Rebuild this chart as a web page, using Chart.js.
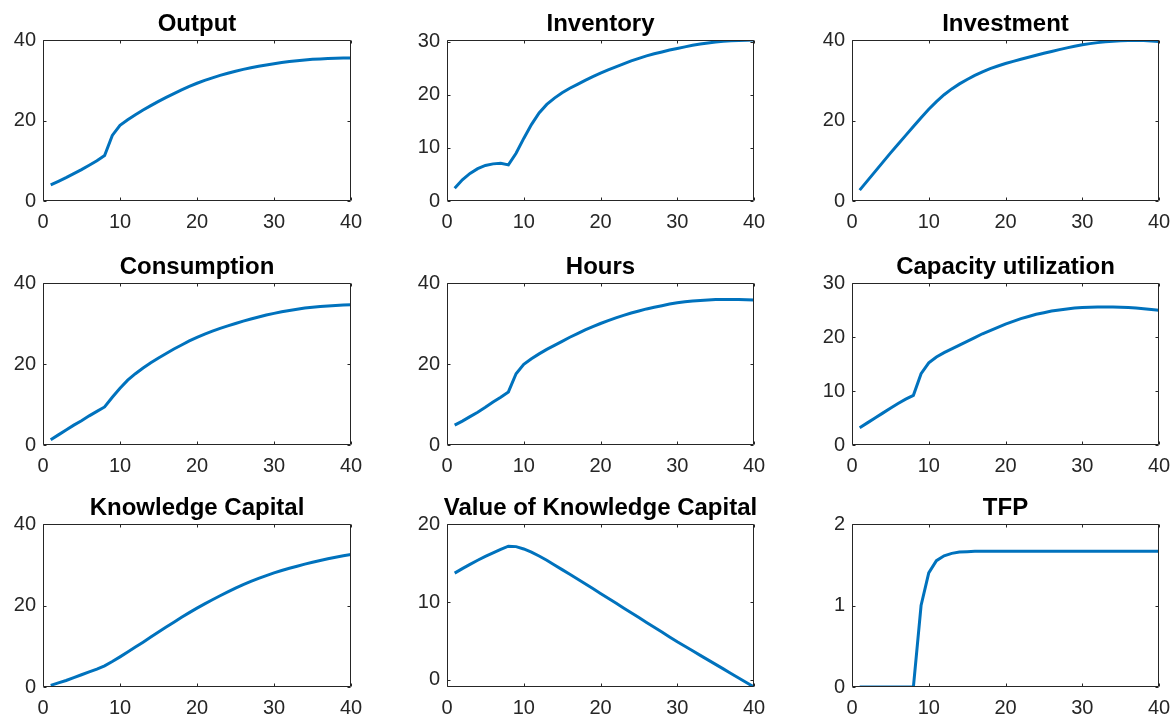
<!DOCTYPE html>
<html>
<head>
<meta charset="utf-8">
<script src="https://cdn.jsdelivr.net/npm/chart.js@4.4.1/dist/chart.umd.min.js"></script>
<style>
  html, body { margin: 0; padding: 0; background: #fff; overflow: hidden; }
  body { width: 1176px; height: 720px; position: relative; }
  canvas { position: absolute; }
</style>
</head>
<body>
<script>
// x axis: periods after the shock
const periods = [1, 2, 3, 4, 5, 6, 7, 8, 9, 10, 11, 12, 13, 14, 15, 16, 17, 18, 19, 20,
  21, 22, 23, 24, 25, 26, 27, 28, 29, 30, 31, 32, 33, 34, 35, 36, 37, 38, 39, 40];
const xTicks = [0, 10, 20, 30, 40];

const titles = ["Output", "Inventory", "Investment", "Consumption", "Hours",
  "Capacity utilization", "Knowledge Capital", "Value of Knowledge Capital", "TFP"];

const output = [4.0, 4.9, 5.8, 6.8, 7.8, 8.9, 10.0, 11.3, 16.3, 18.8,
  20.2, 21.45, 22.6, 23.7, 24.75, 25.75, 26.7, 27.6, 28.45, 29.25,
  29.95, 30.6, 31.2, 31.75, 32.25, 32.7, 33.1, 33.5, 33.8, 34.1,
  34.4, 34.65, 34.85, 35.05, 35.2, 35.3, 35.4, 35.45, 35.5, 35.5];
const inventory = [2.4, 4.0, 5.2, 6.1, 6.7, 7.0, 7.1, 6.8, 9.0, 11.8,
  14.4, 16.6, 18.2, 19.4, 20.4, 21.25, 22.0, 22.75, 23.45, 24.1,
  24.7, 25.3, 25.85, 26.4, 26.9, 27.35, 27.75, 28.1, 28.45, 28.75,
  29.05, 29.35, 29.6, 29.8, 29.97, 30.1, 30.2, 30.27, 30.32, 30.35];
const investment = [2.7, 5.0, 7.3, 9.6, 11.9, 14.1, 16.3, 18.5, 20.7, 22.8,
  24.7, 26.4, 27.85, 29.1, 30.2, 31.2, 32.1, 32.9, 33.55, 34.15,
  34.7, 35.2, 35.7, 36.2, 36.7, 37.15, 37.6, 38.05, 38.45, 38.8,
  39.1, 39.35, 39.55, 39.7, 39.8, 39.85, 39.87, 39.85, 39.78, 39.65];
const consumption = [1.3, 2.5, 3.7, 4.9, 6.0, 7.2, 8.3, 9.4, 11.8, 14.0,
  16.0, 17.6, 19.0, 20.3, 21.5, 22.6, 23.7, 24.7, 25.7, 26.6,
  27.4, 28.1, 28.8, 29.4, 30.0, 30.6, 31.1, 31.6, 32.1, 32.5,
  32.9, 33.2, 33.5, 33.8, 34.0, 34.2, 34.35, 34.45, 34.55, 34.6];
const hours = [4.9, 5.9, 7.0, 8.1, 9.3, 10.6, 11.8, 13.1, 17.6, 19.9,
  21.3, 22.5, 23.6, 24.6, 25.6, 26.6, 27.5, 28.4, 29.2, 30.0,
  30.7, 31.4, 32.0, 32.6, 33.1, 33.6, 34.0, 34.4, 34.8, 35.1,
  35.35, 35.55, 35.7, 35.8, 35.9, 35.95, 35.95, 35.9, 35.85, 35.8];
const capacity = [3.2, 4.1, 5.0, 5.9, 6.8, 7.7, 8.5, 9.2, 13.2, 15.2,
  16.3, 17.1, 17.8, 18.5, 19.2, 19.9, 20.6, 21.2, 21.8, 22.4,
  22.9, 23.4, 23.8, 24.2, 24.5, 24.8, 25.0, 25.2, 25.35, 25.45,
  25.5, 25.55, 25.55, 25.55, 25.5, 25.45, 25.35, 25.25, 25.1, 24.95];
const knowledge = [0.4, 1.0, 1.6, 2.3, 3.0, 3.7, 4.4, 5.2, 6.25, 7.4,
  8.6, 9.8, 11.0, 12.25, 13.5, 14.7, 15.9, 17.1, 18.25, 19.35,
  20.4, 21.4, 22.4, 23.35, 24.25, 25.1, 25.9, 26.65, 27.35, 28.0,
  28.6, 29.15, 29.65, 30.15, 30.6, 31.05, 31.45, 31.85, 32.2, 32.55];
const knowledgeValue = [13.7, 14.28, 14.83, 15.35, 15.84, 16.3, 16.74, 17.15, 17.1, 16.8,
  16.4, 15.9, 15.35, 14.75, 14.15, 13.55, 12.95, 12.33, 11.72, 11.1,
  10.48, 9.86, 9.24, 8.62, 8.0, 7.38, 6.76, 6.14, 5.52, 4.9,
  4.32, 3.74, 3.16, 2.58, 2.0, 1.42, 0.84, 0.26, -0.32, -0.9];
const tfp = [0, 0, 0, 0, 0, 0, 0, 0, 1.0, 1.40,
  1.55, 1.61, 1.64, 1.655, 1.66, 1.665, 1.665, 1.665, 1.665, 1.665,
  1.665, 1.665, 1.665, 1.665, 1.665, 1.665, 1.665, 1.665, 1.665, 1.665,
  1.665, 1.665, 1.665, 1.665, 1.665, 1.665, 1.665, 1.665, 1.665, 1.665];

const series = [output, inventory, investment, consumption, hours,
  capacity, knowledge, knowledgeValue, tfp];

// y limits and tick labels per panel
const yMins = [0, 0, 0, 0, 0, 0, 0, -0.9, 0];
const yMaxs = [40, 30.35, 40, 40, 40, 30, 40, 20, 2];
const yTicks = [[0, 20, 40], [0, 10, 20, 30], [0, 20, 40], [0, 20, 40], [0, 20, 40],
  [0, 10, 20, 30], [0, 20, 40], [0, 10, 20], [0, 1, 2]];

// plot area placement (left, width) per column and (top, height) per row
const colLeft = [43, 447, 852];
const colWidth = [308, 307, 307];
const rowTop = [40, 283, 524];
const rowHeight = [161, 162, 163];
const SIDE = 43, TITLE_H = 32, XAXIS_H = 30;

const axisColor = "#262626";
Chart.defaults.font.family = "'Liberation Sans', Arial, sans-serif";

// MATLAB style box with inward ticks on all four sides
const boxPlugin = {
  id: "matlabBox",
  afterDatasetsDraw(chart) {
    const { ctx, chartArea: a, scales: { x, y } } = chart;
    const l = Math.round(a.left) + 0.5, r = Math.round(a.right) - 0.5;
    const t = Math.round(a.top) + 0.5, b = Math.round(a.bottom) - 0.5;
    ctx.save();
    ctx.strokeStyle = axisColor;
    ctx.lineWidth = 1;
    ctx.beginPath();
    ctx.rect(l, t, r - l, b - t);
    x.ticks.forEach(tk => {
      const px = Math.round(x.getPixelForValue(tk.value)) + 0.5;
      ctx.moveTo(px, b); ctx.lineTo(px, b - 3);
      ctx.moveTo(px, t); ctx.lineTo(px, t + 3);
    });
    y.ticks.forEach(tk => {
      const py = Math.round(y.getPixelForValue(tk.value)) + 0.5;
      ctx.moveTo(l, py); ctx.lineTo(l + 3, py);
      ctx.moveTo(r, py); ctx.lineTo(r - 3, py);
    });
    ctx.stroke();
    ctx.restore();
  }
};

series.forEach((vals, i) => {
  const col = i % 3, row = Math.floor(i / 3);
  const canvas = document.createElement("canvas");
  const w = colWidth[col] + 2 * SIDE;
  const h = rowHeight[row] + TITLE_H + XAXIS_H;
  canvas.width = w;
  canvas.height = h;
  canvas.style.left = (colLeft[col] - SIDE) + "px";
  canvas.style.top = (rowTop[row] - TITLE_H) + "px";
  canvas.style.width = w + "px";
  canvas.style.height = h + "px";
  document.body.appendChild(canvas);

  new Chart(canvas, {
    type: "line",
    data: {
      datasets: [{
        data: periods.map((p, k) => ({ x: p, y: vals[k] })),
        borderColor: "#0072BD",
        borderWidth: 3,
        tension: 0,
        pointRadius: 0,
        fill: false
      }]
    },
    plugins: [boxPlugin],
    options: {
      responsive: false,
      devicePixelRatio: 1,
      animation: false,
      layout: { padding: 0 },
      plugins: {
        legend: { display: false },
        tooltip: { enabled: false },
        title: {
          display: true,
          text: titles[i],
          color: "#000",
          font: { size: 24, weight: "bold", lineHeight: "28px" },
          padding: { top: 2, bottom: 2 }
        }
      },
      scales: {
        x: {
          type: "linear",
          min: 0,
          max: 40,
          afterBuildTicks: s => { s.ticks = xTicks.map(v => ({ value: v })); },
          afterFit: s => { s.height = XAXIS_H; },
          grid: { display: false, drawTicks: false },
          border: { display: false },
          ticks: { color: axisColor, font: { size: 20 }, padding: 9, maxRotation: 0 }
        },
        y: {
          type: "linear",
          position: "left",
          min: yMins[i],
          max: yMaxs[i],
          afterBuildTicks: s => { s.ticks = yTicks[i].map(v => ({ value: v })); },
          afterFit: s => { s.width = SIDE; },
          grid: { display: false, drawTicks: false },
          border: { display: false },
          ticks: { color: axisColor, font: { size: 20 }, padding: 7 }
        },
        // empty right axis so the plot area (and title) sit centred in the canvas
        yRight: {
          type: "linear",
          position: "right",
          min: yMins[i],
          max: yMaxs[i],
          afterFit: s => { s.width = SIDE; },
          grid: { display: false, drawTicks: false },
          border: { display: false },
          ticks: { display: false }
        }
      }
    }
  });
});
</script>
</body>
</html>
